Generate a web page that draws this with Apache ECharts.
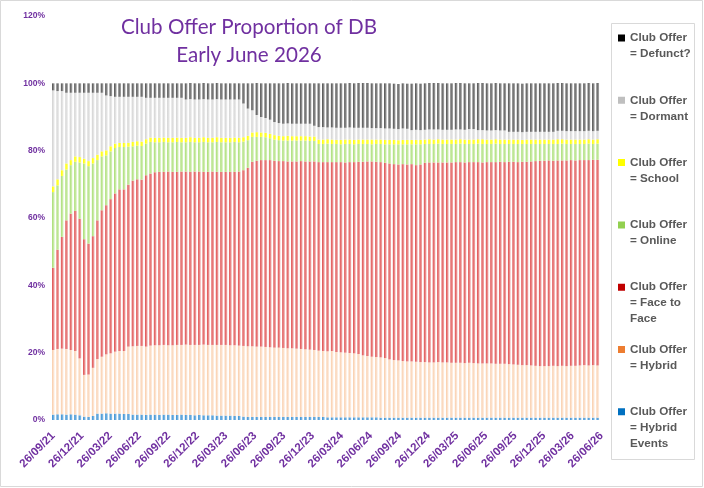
<!DOCTYPE html>
<html>
<head>
<meta charset="utf-8">
<script src="https://cdn.jsdelivr.net/npm/echarts@6/dist/echarts.min.js"></script>
<style>
  html, body { margin: 0; padding: 0; background: #fff; }
  #chart { width: 704px; height: 488px; }
</style>
</head>
<body>
<div id="chart"></div>
<script>
// fortnightly snapshots, first one on 26/09/21
const startDate = '26/09/21'
const stepDays = 14

const tickLabels = [
  '26/09/21', '26/12/21', '26/03/22', '26/06/22', '26/09/22',
  '26/12/22', '26/03/23', '26/06/23', '26/09/23', '26/12/23',
  '26/03/24', '26/06/24', '26/09/24', '26/12/24', '26/03/25',
  '26/06/25', '26/09/25', '26/12/25', '26/03/26', '26/06/26'
]

// % of DB per snapshot
const hybridEvents = [
  1.6, 1.7, 1.7, 1.6, 1.7, 1.6, 1.4, 1.0, 0.9, 1.2,
  1.9, 1.9, 2.0, 1.9, 1.9, 1.9, 1.8, 1.8, 1.6, 1.6,
  1.6, 1.5, 1.6, 1.6, 1.5, 1.6, 1.6, 1.5, 1.5, 1.6,
  1.5, 1.5, 1.4, 1.5, 1.4, 1.4, 1.4, 1.3, 1.3, 1.3,
  1.3, 1.2, 1.2, 1.0, 0.9, 0.9, 0.9, 0.9, 0.9, 0.9,
  0.9, 0.9, 0.9, 0.9, 0.9, 0.9, 0.9, 0.9, 0.9, 0.9,
  0.9, 0.9, 0.8, 0.8, 0.8, 0.8, 0.8, 0.8, 0.8, 0.8,
  0.8, 0.8, 0.8, 0.8, 0.7, 0.7, 0.7, 0.7, 0.7, 0.7,
  0.7, 0.7, 0.7, 0.7, 0.7, 0.7, 0.7, 0.7, 0.7, 0.7,
  0.7, 0.7, 0.7, 0.7, 0.7, 0.7, 0.7, 0.7, 0.7, 0.7,
  0.7, 0.7, 0.7, 0.7, 0.7, 0.7, 0.7, 0.7, 0.7, 0.7,
  0.7, 0.7, 0.7, 0.7, 0.7, 0.7, 0.7, 0.7, 0.7, 0.7,
  0.7, 0.7, 0.7, 0.7
]
const hybrid = [
  19.2, 19.4, 19.5, 19.5, 19.1, 18.9, 16.9, 12.4, 12.6, 14.3,
  16.2, 16.9, 17.5, 17.9, 18.4, 18.6, 18.7, 20.0, 20.3, 20.4,
  20.4, 20.3, 20.5, 20.6, 20.7, 20.7, 20.6, 20.7, 20.8, 20.7,
  20.9, 20.8, 20.9, 20.8, 21.0, 20.9, 20.9, 21.0, 21.0, 21.0,
  20.9, 21.0, 20.9, 21.0, 21.0, 21.0, 20.9, 20.9, 20.8, 20.7,
  20.6, 20.6, 20.5, 20.4, 20.4, 20.3, 20.2, 20.1, 20.0, 19.9,
  19.7, 19.6, 19.6, 19.7, 19.4, 19.3, 19.2, 19.1, 19.0, 18.8,
  18.4, 18.2, 18.0, 17.9, 17.9, 17.7, 17.3, 17.1, 17.0, 16.8,
  16.7, 16.7, 16.6, 16.5, 16.5, 16.4, 16.4, 16.5, 16.4, 16.4,
  16.3, 16.3, 16.3, 16.2, 16.3, 16.2, 16.1, 16.1, 16.1, 16.1,
  16.0, 16.0, 16.0, 15.9, 15.8, 15.7, 15.6, 15.6, 15.5, 15.4,
  15.3, 15.3, 15.3, 15.4, 15.3, 15.4, 15.3, 15.4, 15.4, 15.5,
  15.6, 15.5, 15.6, 15.5
]
const faceToFace = [
  24.4, 29.5, 33.2, 38.2, 40.5, 41.6, 41.5, 40.3, 38.9, 39.1,
  41.2, 43.5, 44.3, 45.8, 47.0, 48.0, 48.0, 48.1, 49.2, 49.5,
  49.4, 50.9, 51.1, 51.4, 51.5, 51.4, 51.6, 51.5, 51.4, 51.5,
  51.4, 51.4, 51.5, 51.5, 51.3, 51.4, 51.5, 51.4, 51.4, 51.4,
  51.5, 51.5, 51.7, 52.2, 53.0, 54.8, 55.2, 55.4, 55.5, 55.6,
  55.5, 55.4, 55.5, 55.5, 55.5, 55.6, 55.8, 55.8, 55.9, 56.0,
  56.0, 56.1, 56.2, 56.1, 56.4, 56.5, 56.5, 56.7, 56.8, 57.1,
  57.5, 57.8, 58.0, 58.0, 58.0, 58.0, 58.2, 58.2, 58.2, 58.5,
  58.5, 58.6, 58.4, 58.7, 59.2, 59.4, 59.4, 59.3, 59.4, 59.4,
  59.5, 59.6, 59.6, 59.6, 59.6, 59.7, 59.8, 59.7, 59.8, 59.8,
  59.9, 60.0, 59.9, 60.1, 60.2, 60.2, 60.4, 60.4, 60.6, 60.8,
  61.0, 61.0, 61.1, 60.9, 61.1, 61.0, 61.1, 61.1, 61.0, 61.0,
  60.9, 61.0, 61.0, 61.1
]
const online = [
  22.5, 19.1, 18.1, 15.1, 14.4, 14.6, 16.7, 22.5, 23.0, 21.6,
  17.9, 16.0, 14.8, 14.2, 13.5, 12.6, 12.6, 11.3, 10.2, 10.0,
  10.0, 9.4, 9.4, 8.9, 8.8, 8.9, 8.7, 8.8, 8.9, 8.7,
  8.7, 8.9, 8.7, 8.7, 8.9, 8.8, 8.7, 8.9, 8.8, 8.8,
  8.8, 8.9, 8.7, 8.5, 8.2, 7.4, 7.1, 6.9, 6.8, 6.5,
  6.3, 6.2, 6.1, 6.2, 6.2, 6.2, 6.1, 6.2, 6.1, 6.1,
  5.4, 5.4, 5.5, 5.4, 5.4, 5.3, 5.5, 5.4, 5.3, 5.3,
  5.3, 5.2, 5.1, 5.3, 5.4, 5.5, 5.7, 5.9, 6.0, 5.9,
  6.0, 5.9, 6.2, 6.0, 5.6, 5.5, 5.5, 5.6, 5.5, 5.5,
  5.5, 5.4, 5.5, 5.5, 5.4, 5.4, 5.5, 5.5, 5.4, 5.4,
  5.5, 5.3, 5.4, 5.3, 5.3, 5.4, 5.3, 5.3, 5.2, 5.1,
  5.0, 5.0, 4.9, 5.0, 4.9, 5.0, 4.9, 4.8, 4.9, 4.8,
  4.8, 4.9, 4.7, 4.8
]
const school = [
  1.7, 1.8, 1.7, 1.8, 1.5, 1.6, 1.6, 1.4, 1.5, 1.6,
  1.6, 1.5, 1.5, 1.5, 1.3, 1.2, 1.2, 1.1, 1.3, 1.3,
  1.3, 1.3, 1.3, 1.3, 1.3, 1.3, 1.3, 1.3, 1.3, 1.3,
  1.3, 1.4, 1.3, 1.3, 1.4, 1.3, 1.3, 1.4, 1.3, 1.3,
  1.3, 1.3, 1.3, 1.3, 1.3, 1.3, 1.4, 1.3, 1.3, 1.3,
  1.3, 1.3, 1.3, 1.4, 1.3, 1.3, 1.3, 1.3, 1.3, 1.3,
  1.3, 1.3, 1.3, 1.3, 1.2, 1.3, 1.3, 1.3, 1.3, 1.3,
  1.3, 1.3, 1.4, 1.3, 1.3, 1.3, 1.3, 1.3, 1.2, 1.3,
  1.3, 1.3, 1.3, 1.3, 1.3, 1.4, 1.3, 1.3, 1.3, 1.3,
  1.3, 1.3, 1.3, 1.3, 1.3, 1.3, 1.3, 1.4, 1.3, 1.3,
  1.3, 1.3, 1.3, 1.3, 1.3, 1.3, 1.2, 1.3, 1.3, 1.3,
  1.3, 1.3, 1.3, 1.3, 1.4, 1.3, 1.3, 1.3, 1.3, 1.3,
  1.3, 1.3, 1.3, 1.3
]
const dormant = [
  28.5, 26.2, 23.5, 21.0, 20.0, 18.9, 19.1, 19.6, 20.3, 19.4,
  18.4, 17.4, 16.3, 14.9, 13.9, 13.7, 13.7, 13.7, 13.4, 13.2,
  13.3, 12.3, 11.8, 11.9, 11.9, 11.8, 11.9, 11.9, 11.8, 11.9,
  11.4, 11.3, 11.4, 11.4, 11.3, 11.4, 11.4, 11.3, 11.4, 11.4,
  11.4, 11.3, 11.4, 10.0, 8.1, 6.6, 5.1, 4.6, 4.4, 4.2,
  3.9, 3.8, 3.7, 3.7, 3.7, 3.7, 3.7, 3.7, 3.8, 3.2,
  3.7, 3.7, 3.5, 3.6, 3.6, 3.6, 3.5, 3.6, 3.6, 3.5,
  3.5, 3.5, 3.4, 3.4, 3.4, 3.4, 3.4, 3.3, 3.3, 3.4,
  3.3, 2.9, 3.0, 2.9, 2.9, 2.9, 3.0, 2.9, 2.9, 2.9,
  2.9, 3.0, 2.9, 2.9, 3.1, 3.1, 2.7, 2.7, 2.7, 2.7,
  2.7, 2.7, 2.7, 2.3, 2.3, 2.3, 2.3, 2.3, 2.3, 2.3,
  2.3, 2.3, 2.3, 2.3, 2.5, 2.5, 2.5, 2.5, 2.5, 2.5,
  2.5, 2.5, 2.5, 2.5
]
const defunct = [
  2.1, 2.3, 2.3, 2.8, 2.8, 2.8, 2.8, 2.8, 2.8, 2.8,
  2.8, 2.8, 3.6, 3.8, 4.0, 4.0, 4.0, 4.0, 4.0, 4.0,
  4.0, 4.3, 4.3, 4.3, 4.3, 4.3, 4.3, 4.3, 4.3, 4.3,
  4.8, 4.8, 4.8, 4.8, 4.8, 4.8, 4.8, 4.8, 4.8, 4.8,
  4.8, 4.8, 4.8, 6.0, 7.5, 8.0, 9.5, 10.0, 10.3, 10.8,
  11.5, 11.8, 12.0, 12.0, 12.0, 12.0, 12.0, 12.0, 12.0, 12.6,
  13.0, 13.0, 13.1, 13.1, 13.2, 13.2, 13.2, 13.2, 13.2, 13.3,
  13.3, 13.3, 13.3, 13.3, 13.3, 13.4, 13.4, 13.4, 13.4, 13.4,
  13.4, 13.8, 13.8, 13.8, 13.8, 13.8, 13.8, 13.8, 13.8, 13.8,
  13.8, 13.8, 13.8, 13.8, 13.6, 13.6, 14.0, 14.0, 14.0, 14.0,
  14.0, 14.0, 14.0, 14.4, 14.4, 14.4, 14.4, 14.4, 14.4, 14.4,
  14.4, 14.4, 14.4, 14.4, 14.2, 14.2, 14.2, 14.2, 14.2, 14.2,
  14.2, 14.2, 14.2, 14.2
]

const DAY = 24 * 3600 * 1000
const parseDate = (s) => {
  const [d, m, y] = s.split('/').map(Number)
  return Date.UTC(2000 + y, m - 1, d)
}
const pad = (n) => String(n).padStart(2, '0')
const fmtDate = (t) => {
  const d = new Date(t)
  return pad(d.getUTCDate()) + '/' + pad(d.getUTCMonth() + 1) + '/' + pad(d.getUTCFullYear() % 100)
}

const t0 = parseDate(startDate)
const step = stepDays * DAY
const snapshots = hybridEvents.map((v, i) => fmtDate(t0 + i * step))
// label positions in snapshot units on the bar axis
const tickPositions = tickLabels.map((s) => (parseDate(s) - t0) / step)

// bottom of the stack first
const layers = [
  { name: 'Club Offer = Hybrid Events', label: 'Club Offer\n= Hybrid\nEvents', data: hybridEvents, key: '#0070C0', c1: '#3A90D2', c2: '#90C2E8' },
  { name: 'Club Offer = Hybrid', label: 'Club Offer\n= Hybrid\n ', data: hybrid, key: '#ED7D31', c1: '#F9CCA8', c2: '#FEF0E6' },
  { name: 'Club Offer = Face to Face', label: 'Club Offer\n= Face to\nFace', data: faceToFace, key: '#C00000', c1: '#E04E4E', c2: '#F0AEAE' },
  { name: 'Club Offer = Online', label: 'Club Offer\n= Online\n ', data: online, key: '#92D050', c1: '#A8DD72', c2: '#DAF2C2' },
  { name: 'Club Offer = School', label: 'Club Offer\n= School\n ', data: school, key: '#FFFF00', c1: '#FFFF00', c2: '#FFFF70' },
  { name: 'Club Offer = Dormant', label: 'Club Offer\n= Dormant\n ', data: dormant, key: '#BFBFBF', c1: '#D2D2D2', c2: '#EEEEEE' },
  { name: 'Club Offer = Defunct?', label: 'Club Offer\n= Defunct?\n ', data: defunct, key: '#000000', c1: '#505050', c2: '#A8A8A8' }
]

const purple = '#7030A0'
const chart = echarts.init(document.getElementById('chart'))

chart.setOption({
  animation: false,
  backgroundColor: '#fff',
  title: {
    text: 'Club Offer Proportion of DB\nEarly June 2026',
    left: 249,
    top: 13,
    padding: 0,
    textAlign: 'center',
    textStyle: {
      color: purple,
      fontFamily: 'Lato',
      fontWeight: 'normal',
      fontSize: 20.6,
      lineHeight: 28
    }
  },
  grid: {
    left: 51.1,
    right: 99.6,
    top: 16,
    bottom: 68,
    outerBoundsMode: 'none'
  },
  legend: {
    orient: 'vertical',
    left: 618,
    top: 30,
    padding: 0,
    itemGap: 14.3,
    itemWidth: 7,
    itemHeight: 39,
    selectedMode: false,
    // square sits at the top of a tall box so it lines up with the first text line
    icon: 'path://M0,0H7V7H0Z M0,39L0.1,39',
    data: layers.slice().reverse().map((l) => ({ name: l.name, itemStyle: { color: l.key } })),
    formatter: (name) => layers.find((l) => l.name === name).label,
    textStyle: {
      color: '#595959',
      fontFamily: 'Liberation Sans',
      fontWeight: 'bold',
      fontSize: 11.7,
      lineHeight: 16
    }
  },
  xAxis: [
    {
      type: 'category',
      data: snapshots,
      // one spare band at the end so the last quarter label fits
      max: snapshots.length,
      axisLine: { show: false },
      axisTick: { show: false },
      axisLabel: { show: false },
      splitLine: { show: false }
    },
    {
      // quarterly date labels, same span as the bars
      type: 'value',
      position: 'bottom',
      min: -0.5,
      max: snapshots.length + 0.5,
      axisLine: { show: false },
      axisTick: { show: false },
      splitLine: { show: false },
      axisLabel: {
        customValues: tickPositions,
        formatter: (v) => fmtDate(t0 + Math.round(v * stepDays) * DAY),
        rotate: 45,
        margin: 14,
        color: purple,
        fontFamily: 'Liberation Sans',
        fontWeight: 'bold',
        fontSize: 11.5,
        hideOverlap: false
      }
    }
  ],
  yAxis: {
    type: 'value',
    min: 0,
    max: 120,
    interval: 20,
    axisLine: { show: false },
    axisTick: { show: false },
    splitLine: { show: false },
    axisLabel: {
      formatter: '{value}%',
      margin: 6,
      color: purple,
      fontFamily: 'Liberation Sans',
      fontWeight: 'bold',
      fontSize: 8.5
    }
  },
  series: layers.map((l) => ({
    name: l.name,
    type: 'bar',
    stack: 'total',
    xAxisIndex: 0,
    barWidth: 2.6,
    data: l.data,
    itemStyle: {
      color: new echarts.graphic.LinearGradient(0, 0, 1, 0, [
        { offset: 0, color: l.c1 },
        { offset: 1, color: l.c2 }
      ])
    },
    emphasis: { disabled: true },
    silent: true
  })),
  graphic: [
    {
      type: 'rect',
      silent: true,
      shape: { x: 0.5, y: 0.5, width: 702, height: 486 },
      style: { fill: 'none', stroke: '#D9D9D9', lineWidth: 1 }
    },
    {
      type: 'rect',
      silent: true,
      shape: { x: 611.5, y: 23.5, width: 83, height: 436 },
      style: { fill: 'none', stroke: '#D9D9D9', lineWidth: 1 }
    }
  ]
})
</script>
</body>
</html>
